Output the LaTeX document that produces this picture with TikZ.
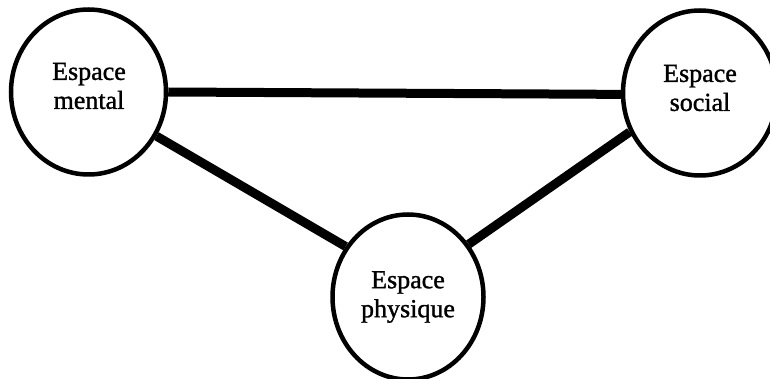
\documentclass[tikz,border=0pt]{standalone}
\usepackage{fontspec}
\setmainfont{Liberation Serif}[FakeBold=1.2]
\usetikzlibrary{shapes.geometric}
\begin{document}
\begin{tikzpicture}[x=1pt,y=-1pt,
  sphere/.style={draw=black,line width=4.5pt,ellipse,inner sep=0pt,fill=white},
  txt/.style={align=center,font=\fontsize{26}{29}\selectfont,inner sep=0pt},
  link/.style={line width=9pt,line cap=butt}]
\useasboundingbox (0,0) rectangle (770,379);
\clip (0,0) rectangle (770,379);
\node[sphere,minimum width=155pt,minimum height=165pt] (L) at (88.5,92) {};
\node[sphere,minimum width=154pt,minimum height=165pt] (R) at (700,93) {};
\node[sphere,minimum width=151pt,minimum height=165pt] (B) at (408,297) {};
\draw[link] (L.0) -- (R.-179);
\draw[link] (L.-33) -- (B.141);
\draw[link] (B.41) -- (R.-151);
\node[txt] (Lt) at (89,86) {Espace\\mental};
\node[txt] (Rt) at (700,88) {Espace\\social};
\node[txt] (Bt) at (408,297) {Espace\\physique};
\end{tikzpicture}
\end{document}
